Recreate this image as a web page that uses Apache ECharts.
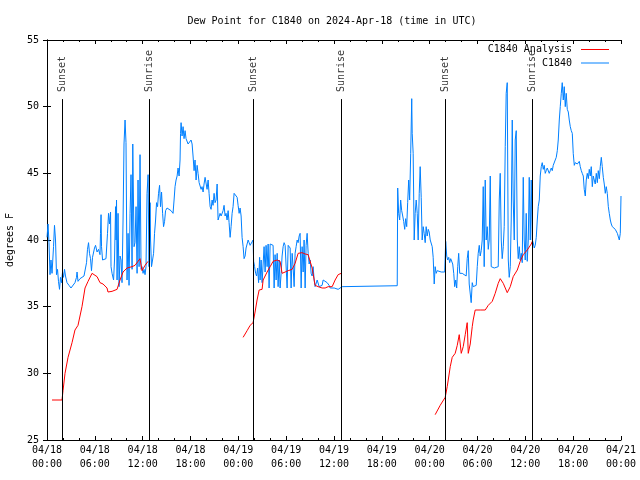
<!DOCTYPE html>
<html><head><meta charset="utf-8">
<script src="https://cdn.jsdelivr.net/npm/echarts@6/dist/echarts.min.js"></script>
<style>html,body{margin:0;padding:0;background:#fff}#c{width:640px;height:480px}</style>
</head><body><div id="c"></div>
<script>
// time = hours since 2024-04-18 00:00 UTC
const blueHours = [
0.00,0.13,0.25,0.38,0.50,0.63,0.82,0.94,1.07,1.19,
1.32,1.44,1.57,1.69,1.82,1.95,2.07,2.20,2.32,2.51,
2.76,3.01,3.26,3.51,3.70,3.77,3.89,4.14,4.39,4.64,
4.83,4.96,5.08,5.21,5.33,5.46,5.58,5.71,5.84,5.96,
6.09,6.28,6.46,6.65,6.71,6.78,6.84,6.97,7.15,7.40,
7.59,7.72,7.84,7.97,8.03,8.16,8.35,8.47,8.60,8.66,
8.72,8.79,8.91,9.04,9.16,9.29,9.41,9.54,9.66,9.79,
9.91,10.04,10.17,10.29,10.42,10.54,10.67,10.76,10.86,10.92,
11.04,11.17,11.30,11.42,11.55,11.67,11.80,11.92,12.05,12.17,
12.30,12.42,12.55,12.68,12.80,12.93,12.99,13.11,13.24,13.37,
13.49,13.62,13.74,13.87,13.99,14.12,14.24,14.37,14.50,14.62,
14.75,14.87,15.06,15.31,15.56,15.81,15.94,16.06,16.19,16.32,
16.44,16.57,16.69,16.75,16.82,16.94,17.07,17.19,17.32,17.44,
17.57,17.70,17.82,17.95,18.07,18.20,18.32,18.45,18.57,18.70,
18.83,18.95,19.08,19.20,19.33,19.45,19.58,19.70,19.83,19.95,
20.08,20.21,20.33,20.46,20.58,20.71,20.83,20.96,21.08,21.21,
21.34,21.46,21.59,21.71,21.84,21.96,22.09,22.21,22.34,22.46,
22.59,22.72,22.84,22.97,23.09,23.22,23.34,23.47,23.72,23.85,
23.97,24.10,24.22,24.35,24.47,24.60,24.72,24.85,24.97,25.10,
25.23,25.35,25.48,25.73,25.85,25.92,26.04,26.17,26.29,26.42,
26.54,26.67,26.73,26.86,26.98,27.11,27.23,27.36,27.48,27.61,
27.74,27.86,27.99,28.11,28.24,28.36,28.49,28.61,28.74,28.87,
28.99,29.12,29.24,29.37,29.49,29.62,29.74,29.87,29.99,30.12,
30.25,30.37,30.50,30.62,30.75,30.87,31.00,31.12,31.25,31.38,
31.50,31.63,31.75,31.88,32.00,32.13,32.25,32.38,32.50,32.63,
32.76,32.88,33.01,33.13,33.26,33.38,33.51,33.63,33.76,33.89,
34.01,34.14,34.26,34.51,34.64,34.89,35.14,35.39,35.52,35.77,
36.02,36.27,36.52,36.77,37.02,37.15,43.93,43.99,44.11,44.24,
44.36,44.49,44.62,44.74,44.87,44.99,45.12,45.24,45.37,45.49,
45.62,45.75,45.81,45.93,46.06,46.18,46.31,46.44,46.56,46.69,
46.81,46.94,47.06,47.19,47.31,47.44,47.56,47.69,47.82,47.94,
48.07,48.19,48.32,48.44,48.57,48.69,48.82,48.95,49.20,49.45,
49.70,49.89,50.01,50.14,50.26,50.39,50.51,50.64,50.77,50.89,
51.02,51.14,51.27,51.39,51.52,51.64,51.77,51.89,52.08,52.33,
52.58,52.71,52.84,52.96,53.09,53.21,53.34,53.46,53.59,53.71,
53.84,53.97,54.09,54.22,54.34,54.47,54.59,54.72,54.84,54.97,
55.09,55.22,55.35,55.47,55.60,55.72,55.85,56.10,56.35,56.60,
56.73,56.85,56.98,57.10,57.23,57.35,57.48,57.60,57.73,57.86,
57.98,58.11,58.23,58.36,58.48,58.61,58.73,58.86,58.99,59.11,
59.24,59.36,59.49,59.61,59.74,59.86,59.99,60.11,60.24,60.37,
60.49,60.62,60.74,60.87,60.99,61.12,61.24,61.37,61.50,61.62,
61.75,61.87,62.00,62.12,62.25,62.37,62.50,62.62,62.75,62.88,
63.00,63.13,63.25,63.38,63.50,63.63,63.75,63.88,64.01,64.13,
64.26,64.38,64.51,64.63,64.76,64.88,65.01,65.13,65.26,65.39,
65.51,65.64,65.76,65.89,66.01,66.14,66.26,66.52,66.77,66.89,
67.02,67.14,67.27,67.39,67.52,67.64,67.77,67.90,68.02,68.15,
68.27,68.40,68.52,68.65,68.77,68.90,69.03,69.15,69.28,69.40,
69.53,69.65,69.78,69.90,70.03,70.15,70.28,70.41,70.53,70.66,
70.78,70.91,71.16,71.28,71.54,71.79,71.91,72.00
];
const blueValues = [
40.2,41.2,39.8,37.4,38.5,37.5,39.5,41.1,40.0,37.4,
37.8,36.9,36.3,37.2,36.8,37.6,37.2,37.8,37.3,36.8,
36.6,36.4,36.5,36.8,37.2,37.6,36.9,37.1,37.1,37.3,
37.3,38.3,39.3,39.8,39.0,38.6,37.7,38.7,38.7,39.4,
39.6,39.1,39.3,38.9,40.5,41.9,39.5,38.5,38.5,38.6,
40.5,42.0,41.2,42.1,38.0,37.5,37.0,38.5,42.5,40.0,
43.0,37.0,42.0,36.5,38.8,38.5,36.8,41.5,47.2,49.0,
47.3,37.0,40.5,36.6,42.0,44.9,37.8,47.2,47.2,39.5,
39.8,42.5,37.5,44.5,38.0,46.4,37.8,38.0,37.5,37.8,
37.4,38.0,43.5,44.9,38.0,42.8,40.0,38.0,38.5,39.0,
40.5,41.5,42.8,42.5,43.5,44.1,42.5,43.6,42.0,41.0,
41.4,42.2,42.4,42.3,42.2,42.0,43.0,44.0,44.5,44.8,
45.4,44.8,46.0,48.0,48.8,47.8,48.5,47.6,48.2,47.6,
47.6,47.2,47.2,47.3,47.5,47.2,46.3,45.2,46.0,44.5,
45.6,45.0,44.3,44.2,43.8,44.0,43.6,44.2,44.7,44.8,
43.8,44.5,43.5,42.5,42.3,43.0,42.6,43.5,42.8,43.0,
44.2,41.5,41.6,42.0,41.8,41.9,42.2,42.6,41.8,42.0,
41.5,42.2,41.3,40.2,41.0,42.0,42.5,43.5,43.5,43.2,
42.6,42.0,42.4,41.8,40.2,39.5,38.6,38.8,39.4,39.3,
40.0,39.8,39.6,39.6,40.0,38.4,38.0,37.5,37.3,37.9,
36.8,38.7,37.0,38.5,36.8,38.2,39.5,37.6,39.6,38.0,
39.7,36.4,39.7,39.8,39.7,39.6,36.4,38.9,37.0,39.0,
36.5,38.5,36.4,37.5,38.8,39.5,39.8,39.6,39.5,36.4,
39.6,39.5,39.4,36.4,39.0,38.0,36.5,39.0,39.5,40.0,
39.8,40.3,40.5,36.4,39.5,37.6,40.0,36.4,39.6,40.5,
39.0,38.2,38.5,37.5,37.3,38.0,37.0,36.5,36.4,37.0,
36.9,36.5,36.5,36.6,37.0,37.0,36.8,36.6,36.4,36.5,
36.4,36.5,36.3,36.4,36.5,36.57,36.57,43.9,42.0,41.5,
43.0,42.2,41.8,41.4,40.8,41.6,41.0,42.8,44.5,43.0,
46.5,50.6,48.0,46.5,40.0,42.0,43.0,42.0,40.0,43.5,
45.5,43.2,40.0,41.0,40.5,39.8,41.0,40.3,40.8,40.6,
40.0,40.0,39.5,38.7,36.7,38.0,37.5,37.7,37.7,37.6,
37.5,37.6,39.9,38.8,38.5,38.7,38.3,38.6,38.5,38.2,
37.5,36.5,37.0,36.4,38.0,39.0,37.5,37.6,37.5,37.4,
37.3,38.6,39.2,36.7,36.6,35.3,36.8,36.5,36.4,36.6,
36.6,38.0,39.0,39.6,38.8,39.2,40.0,44.0,38.0,44.5,
40.0,41.0,39.3,40.0,44.8,38.0,37.9,37.9,37.9,38.0,
43.0,45.0,40.0,38.6,39.5,41.0,47.0,51.0,51.8,38.5,
37.2,38.0,41.5,49.0,43.0,40.0,47.5,48.2,40.0,38.6,
39.5,38.5,39.0,38.3,44.7,40.0,38.5,42.0,38.4,40.0,
44.7,40.0,44.5,40.0,39.8,39.4,39.6,40.2,41.5,42.5,
43.0,44.8,45.5,45.8,45.3,45.6,45.0,45.2,45.4,45.5,
45.0,45.2,45.4,45.2,45.6,45.5,46.0,46.2,46.7,47.5,
49.0,50.0,51.0,51.8,50.5,51.5,50.0,51.0,49.8,49.6,
49.0,48.5,48.2,48.0,46.5,45.6,45.8,45.7,45.9,45.5,
45.2,45.0,44.8,43.8,43.3,44.5,45.0,44.6,45.3,44.8,
45.5,44.0,44.8,44.9,44.2,45.0,44.3,45.2,44.6,45.5,
46.2,45.5,44.7,44.2,43.5,44.0,43.5,42.5,42.0,41.5,
41.2,41.0,41.0,40.8,40.5,40.0,40.5,43.3
];
const redHours = [
0.63,1.88,2.01,2.26,2.64,3.14,3.51,3.89,4.39,4.77,
5.15,5.65,5.77,6.28,6.65,7.03,7.53,7.65,8.16,8.79,
9.16,9.54,10.04,10.67,11.04,11.42,11.67,11.92,12.30,12.68,
18.00,
24.60,25.10,25.48,25.85,26.10,26.35,26.61,26.98,27.11,27.61,
27.99,28.36,28.87,29.24,29.49,29.87,30.25,30.75,31.12,31.50,
32.00,32.38,32.76,33.26,33.63,34.01,34.51,34.89,35.27,35.77,
36.14,36.52,36.90,
42.00,
48.69,49.32,49.95,50.20,50.33,50.58,50.83,51.20,51.46,51.71,
51.96,52.21,52.46,52.71,52.84,53.09,53.34,53.46,53.71,54.34,
54.97,55.35,55.85,56.22,56.60,56.85,57.23,57.73,58.11,58.48,
58.99,59.36,59.74,60.24,60.74,60.87
];
const redValues = [
28.0,28.0,28.7,30.0,31.2,32.3,33.25,33.6,35.0,36.4,
36.9,37.5,37.6,37.25,36.8,36.7,36.4,36.1,36.15,36.3,
37.0,37.6,37.9,38.0,38.1,38.4,38.6,37.7,38.1,38.4,
null,
32.7,33.2,33.6,33.8,34.6,35.5,36.25,36.3,37.0,37.6,
38.0,38.4,38.5,38.4,37.5,37.6,37.7,37.8,38.25,39.0,
39.05,38.95,38.9,37.9,36.6,36.5,36.4,36.4,36.5,36.5,
37.0,37.4,37.5,
null,
26.9,27.6,28.2,29.0,29.5,30.5,31.2,31.5,32.1,32.9,
31.5,32.0,32.9,33.8,31.5,32.2,33.5,34.0,34.75,34.75,
34.75,35.1,35.4,36.0,36.75,37.1,36.75,36.05,36.5,37.25,
37.75,38.4,38.9,39.25,39.7,39.9
];
const sunEventHours = [1.93, 12.84, 25.93, 36.93, 49.98, 60.9];
const sunEventNames = ['Sunset','Sunrise','Sunset','Sunrise','Sunset','Sunrise'];
const sunLineTop = 50.57;
const sunLabelY = 51.1;
const yMin = 25, yMax = 55, yStep = 5;
const xMin = 0, xMax = 72, xStep = 6;
const titleText = 'Dew Point for C1840 on 2024-Apr-18 (time in UTC)';
const yAxisName = 'degrees F';
const seriesNames = ['C1840 Analysis', 'C1840'];
const RED = '#ff0000', BLUE = '#0080ff';

const FONT = 'DejaVu Sans Mono';
const FS = 10;
function pad(n){ return (n < 10 ? '0' : '') + n; }
function xLabel(v){
  const day = 18 + Math.floor(v / 24);
  const hh = Math.round(v % 24);
  return '04/' + pad(day) + '\n' + pad(hh) + ':00';
}
const blueData = blueHours.map((h,i)=>[h, blueValues[i]]);
const redData = redHours.map((h,i)=>[h, redValues[i] === null ? null : redValues[i]]);

const chart = echarts.init(document.getElementById('c'), null, {renderer:'canvas'});
const axisCommon = {
  axisLine:{show:true, lineStyle:{color:'#000', width:1}},
  axisTick:{show:true, inside:true, length:4, lineStyle:{color:'#000'}},
  splitLine:{show:false}
};
chart.setOption({
  animation:false,
  backgroundColor:'#fff',
  textStyle:{fontFamily:FONT, fontSize:FS, color:'#000'},
  title:{text:titleText, left:332, top:16, textAlign:'center', padding:0,
    textStyle:{fontFamily:FONT, fontSize:FS, fontWeight:'normal', color:'#000'}},
  legend:{
    orient:'vertical', align:'right', right:31, top:43, padding:0,
    itemGap:0.5, itemWidth:28, itemHeight:1,
    data:[
      {name:seriesNames[0], icon:'rect', itemStyle:{color:RED, borderWidth:0}},
      {name:seriesNames[1], icon:'rect', itemStyle:{color:BLUE, borderWidth:0}}
    ],
    textStyle:{fontFamily:FONT, fontSize:FS, color:'#000', lineHeight:13, padding:[0,4,0,0]}
  },
  grid:{left:47, right:19, top:40, bottom:40, containLabel:false, outerBoundsMode:'none'},
  xAxis:[
    Object.assign({}, axisCommon, {type:'value', min:xMin, max:xMax, interval:xStep, position:'bottom',
      minorTick:{show:true, splitNumber:3, length:2, lineStyle:{color:'#000'}},
      axisLabel:{show:true, margin:3, formatter:xLabel, fontFamily:FONT, fontSize:FS, color:'#000', lineHeight:14}}),
    Object.assign({}, axisCommon, {type:'value', min:xMin, max:xMax, interval:xStep, position:'top',
      minorTick:{show:true, splitNumber:3, length:2, lineStyle:{color:'#000'}},
      axisLabel:{show:false}})
  ],
  yAxis:[
    Object.assign({}, axisCommon, {type:'value', min:yMin, max:yMax, interval:yStep, position:'left',
      name:yAxisName, nameLocation:'middle', nameGap:32,
      nameTextStyle:{fontFamily:FONT, fontSize:FS, color:'#000'},
      axisLabel:{show:true, margin:8, fontFamily:FONT, fontSize:FS, color:'#000'}}),
    Object.assign({}, axisCommon, {type:'value', min:yMin, max:yMax, interval:yStep, position:'right',
      axisLabel:{show:false}})
  ],
  series:[
    {name:seriesNames[0], type:'line', data:redData, xAxisIndex:0, yAxisIndex:0,
      symbol:'none', showSymbol:false, connectNulls:false, color:RED,
      itemStyle:{color:RED}, lineStyle:{color:RED, width:1}, z:3},
    {name:seriesNames[1], type:'line', data:blueData, xAxisIndex:0, yAxisIndex:0,
      symbol:'none', showSymbol:false, color:BLUE,
      itemStyle:{color:BLUE}, lineStyle:{color:BLUE, width:1}, z:2},
    {name:'sun', type:'scatter', xAxisIndex:0, yAxisIndex:0, symbolSize:0, silent:true, z:5,
      data: sunEventHours.map((h,i)=>({value:[h, sunLabelY], name:sunEventNames[i]})),
      label:{show:true, formatter:p=>p.name, rotate:90, position:[0,0], align:'left', verticalAlign:'middle',
        fontFamily:FONT, fontSize:FS, color:'#000'},
      markLine:{silent:true, symbol:['none','none'], animation:false,
        label:{show:false}, lineStyle:{color:'#000', width:1, type:'solid'},
        emphasis:{disabled:true},
        data: sunEventHours.map(h=>[{coord:[h, yMin]},{coord:[h, sunLineTop]}])}
    }
  ]
});
</script></body></html>
